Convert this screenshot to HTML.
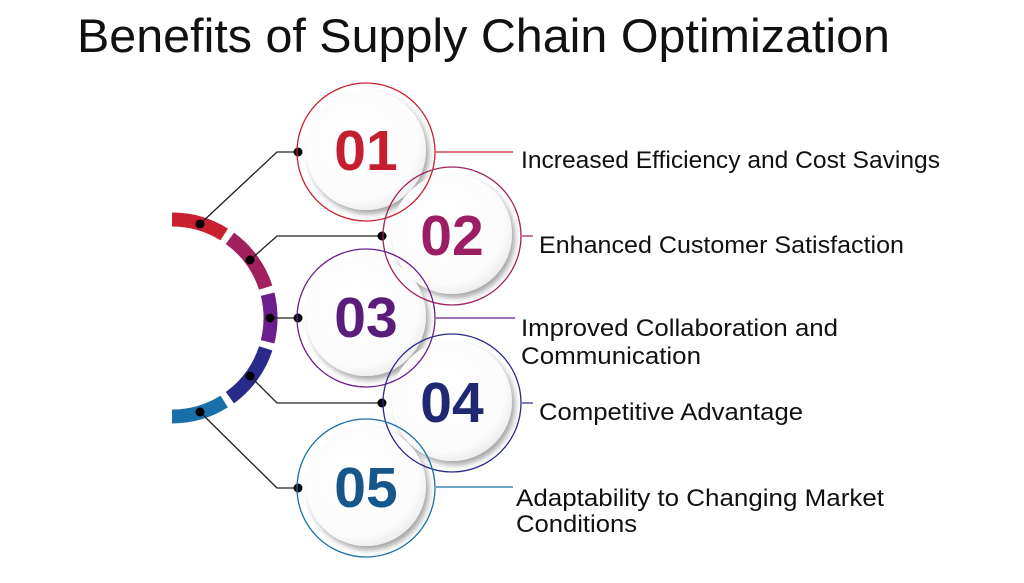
<!DOCTYPE html>
<html><head><meta charset="utf-8"><style>
html,body{margin:0;padding:0;background:#fff;}
svg{display:block;}
</style></head><body>
<svg width="1024" height="583" viewBox="0 0 1024 583" xmlns="http://www.w3.org/2000/svg">
<defs>
<radialGradient id="disc" cx="0.42" cy="0.4" r="0.65">
<stop offset="0" stop-color="#ffffff"/><stop offset="0.8" stop-color="#fbfbfb"/><stop offset="1" stop-color="#eaeaea"/>
</radialGradient>
<filter id="sh" x="-30%" y="-30%" width="160%" height="160%">
<feDropShadow dx="3" dy="4" stdDeviation="3" flood-color="#000" flood-opacity="0.35"/>
</filter>
</defs>
<rect width="1024" height="583" fill="#fff"/>
<text x="77" y="52" font-family="Liberation Sans, sans-serif" font-size="47" fill="#111" textLength="813" lengthAdjust="spacingAndGlyphs">Benefits of Supply Chain Optimization</text>

<g fill="none" stroke-width="14">
<path d="M172,219.5 A98.5,98.5 0 0 1 224.2,234.5" stroke="#c8202f"/>
<path d="M229.9,238.3 A98.5,98.5 0 0 1 265.7,287.6" stroke="#a3205f"/>
<path d="M267.6,294.2 A98.5,98.5 0 0 1 267.6,341.8" stroke="#6a1f8c"/>
<path d="M265.7,348.4 A98.5,98.5 0 0 1 229.9,397.7" stroke="#2a2a8a"/>
<path d="M224.2,401.5 A98.5,98.5 0 0 1 172,416.5" stroke="#1a6fa8"/>
</g>

<g fill="none" stroke="#222" stroke-width="1.3">
<polyline points="200,224 277,152 298,152"/>
<polyline points="250,260 277,236 382,236"/>
<polyline points="270,318 298,318"/>
<polyline points="250,376 277,403 382,403"/>
<polyline points="200,412 277,488 298,488"/>
</g>
<g fill="#000">
<circle cx="200" cy="224" r="4.5"/><circle cx="250" cy="260" r="4.5"/><circle cx="270" cy="318" r="4.5"/><circle cx="250" cy="376" r="4.5"/><circle cx="200" cy="412" r="4.5"/>
<circle cx="298" cy="152" r="4.5"/><circle cx="382" cy="236" r="4.5"/><circle cx="298" cy="318" r="4.5"/><circle cx="382" cy="403" r="4.5"/><circle cx="298" cy="488" r="4.5"/>
</g>

<line x1="436" y1="152" x2="513" y2="152" stroke="#c8202f" stroke-width="1.2"/>
<line x1="522" y1="236" x2="533" y2="236" stroke="#a3205f" stroke-width="1.2"/>
<line x1="436" y1="318" x2="515" y2="318" stroke="#6a1f8c" stroke-width="1.2"/>
<line x1="522" y1="403" x2="533" y2="403" stroke="#2a2a8a" stroke-width="1.2"/>
<line x1="436" y1="487" x2="513" y2="487" stroke="#1a6fa8" stroke-width="1.2"/>

<g filter="url(#sh)" fill="url(#disc)">
<circle cx="366" cy="150" r="60"/>
<circle cx="366" cy="316" r="60"/>
<circle cx="366" cy="486" r="60"/>
<circle cx="452" cy="234" r="60"/>
<circle cx="452" cy="401" r="60"/>
</g>
<g fill="none" stroke-width="1.3">
<circle cx="366" cy="152" r="69" stroke="#c8202f"/>
<circle cx="452" cy="236" r="69" stroke="#a3205f"/>
<circle cx="366" cy="318" r="69" stroke="#6a1f8c"/>
<circle cx="452" cy="403" r="69" stroke="#2a2a8a"/>
<circle cx="366" cy="488" r="69" stroke="#1a6fa8"/>
</g>

<g font-family="Liberation Sans, sans-serif" font-weight="bold" font-size="57" text-anchor="middle">
<text x="366" y="170" fill="#c41e30">01</text>
<text x="452" y="255" fill="#9b1d62">02</text>
<text x="366" y="337" fill="#5a1d7a">03</text>
<text x="452" y="422" fill="#1f2870">04</text>
<text x="366" y="507" fill="#15578a">05</text>
</g>

<g font-family="Liberation Sans, sans-serif" font-size="24" fill="#111">
<text x="521" y="168" textLength="419" lengthAdjust="spacingAndGlyphs">Increased Efficiency and Cost Savings</text>
<text x="539" y="253" textLength="365" lengthAdjust="spacingAndGlyphs">Enhanced Customer Satisfaction</text>
<text x="521" y="336" textLength="317" lengthAdjust="spacingAndGlyphs">Improved Collaboration and</text>
<text x="521" y="364" textLength="180" lengthAdjust="spacingAndGlyphs">Communication</text>
<text x="539" y="420" textLength="264" lengthAdjust="spacingAndGlyphs">Competitive Advantage</text>
<text x="516" y="506" textLength="368" lengthAdjust="spacingAndGlyphs">Adaptability to Changing Market</text>
<text x="516" y="532" textLength="121" lengthAdjust="spacingAndGlyphs">Conditions</text>
</g>
</svg>
</body></html>
